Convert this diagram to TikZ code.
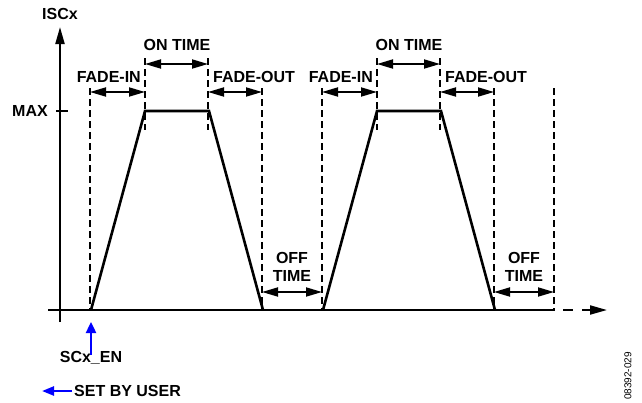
\documentclass[tikz,border=0pt]{standalone}
\usepackage{fontspec}
\setmainfont{Liberation Sans}
\usetikzlibrary{arrows.meta,positioning}
\definecolor{userblue}{RGB}{0,0,255}

\begin{document}
\begin{tikzpicture}[x=1pt,y=-1pt,
  lbl/.style={font=\fontsize{16}{18}\selectfont\bfseries,inner sep=0pt,align=center},
  guide/.style={dash pattern=on 7pt off 4pt,line width=1.3pt},
  span/.style={{Triangle[length=16pt,width=9pt]}-{Triangle[length=16pt,width=9pt]},line width=1.8pt},
  pulse/.style={line width=2.6pt,line join=miter},
  axis/.style={line width=2pt}]
  \useasboundingbox (0,0) rectangle (642,402);
  \draw[axis,-{Triangle[length=17pt,width=9pt]}] (60,322) -- (60,27) coordinate (ytop);
  \node[lbl] (isc) at (60,14) {ISCx};
  \draw[axis] (48,310) -- (555,310) coordinate (xend);
  \draw[axis,dash pattern=on 10pt off 9pt,dash phase=11pt,-{Triangle[length=17pt,width=9pt]}] (xend) -- (607,310);
  \draw[axis] (56,111) -- (68,111);
  \node[lbl,anchor=east] (max) at (48,111) {MAX};
  \foreach \x in {90,262,322,494,554}
    \draw[guide] (\x,88) -- (\x,310);
  \foreach \x in {145,208,377,440}
    \draw[guide] (\x,58) -- (\x,130);
  \foreach \o [count=\i] in {0,232} {
    \draw[pulse] (91+\o,310) -- (145+\o,111) -- (209+\o,111) -- (263+\o,310);
    \draw[span] (90+\o,92) -- (145+\o,92);
    \draw[span] (145+\o,64) -- (208+\o,64);
    \draw[span] (208+\o,92) -- (262+\o,92);
    \draw[span] (262+\o,292) -- (322+\o,292);
    \node[lbl,anchor=east] (fadein\i) at (141+\o,77) {FADE-IN};
    \node[lbl] (ontime\i) at (177+\o,45) {ON TIME};
    \node[lbl,anchor=west] (fadeout\i) at (213+\o,77) {FADE-OUT};
    \node[lbl] (offtime\i) at (292+\o,267) {OFF\\TIME};
  }
  \node[lbl] (scen) at (91,358) {SCx\_EN};
  \coordinate (start) at (91,322);
  \draw[userblue,line width=2.4pt,-{Triangle[length=11pt,width=10pt]}] ([yshift=-4pt]scen.north) -- (start);
  \node[lbl,anchor=west] (user) at (74,391) {SET BY USER};
  \coordinate (userend) at (42,391);
  \draw[userblue,line width=2.4pt,-{Triangle[length=12pt,width=9pt]}] ([xshift=-2pt]user.west) -- (userend);
  \node[rotate=90,font=\fontsize{10}{11}\selectfont] (figno) at (628,376) {08392-029};
\end{tikzpicture}
\end{document}
